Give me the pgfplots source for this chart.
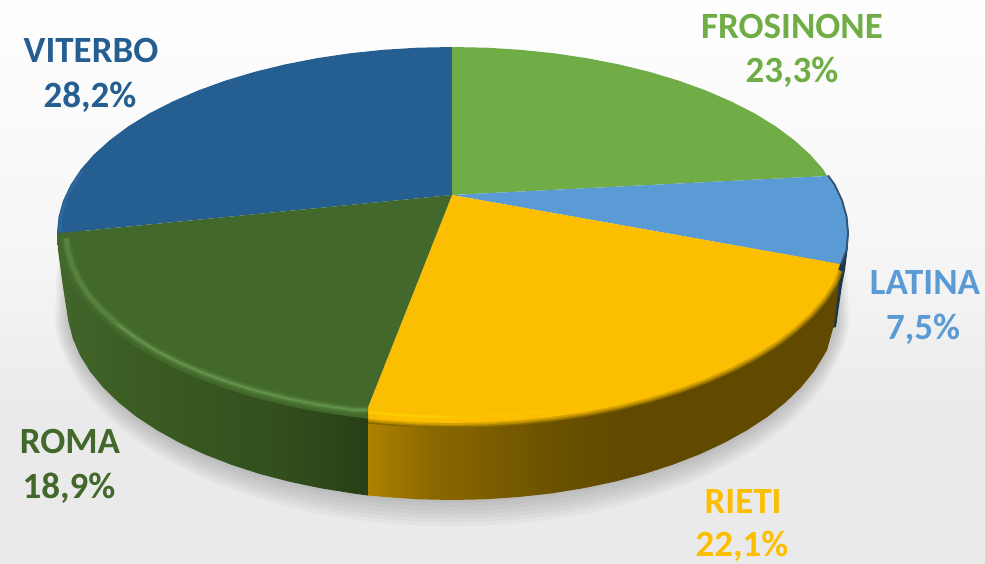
\documentclass[border=0pt]{standalone}
\usepackage{pgfplots}
\usepackage{pgfplotstable}
\pgfplotsset{compat=1.18}
\usepackage{fontspec}
\setmainfont{Carlito}
\definecolor{vit}{HTML}{255E91}
\definecolor{fro}{HTML}{70AD47}
\definecolor{lat}{HTML}{5B9BD5}
\definecolor{rie}{HTML}{FBBE00}
\definecolor{rom}{HTML}{43682B}
\definecolor{bgA}{HTML}{FEFEFE}
\definecolor{bgB}{HTML}{FBFBFB}
\definecolor{bgC}{HTML}{F5F5F5}
\definecolor{bgD}{HTML}{EAEAEA}
\definecolor{rsA}{HTML}{AD8200}
\definecolor{rsB}{HTML}{8A6700}
\definecolor{rsC}{HTML}{6A5100}
\definecolor{rsD}{HTML}{614A00}
\definecolor{gsA}{HTML}{41652A}
\definecolor{gsB}{HTML}{395B22}
\definecolor{gsC}{HTML}{324E1C}
\definecolor{gsD}{HTML}{283E17}
\definecolor{hlA}{HTML}{476E2E}
\definecolor{hlB}{HTML}{4D7634}
\definecolor{hlC}{HTML}{56823D}
\definecolor{hlD}{HTML}{63924C}
\pgfdeclareverticalshading{bgshade}{100bp}{color(0bp)=(bgD);color(25bp)=(bgD);color(38bp)=(bgD);color(52bp)=(bgC);color(65bp)=(bgB);color(75bp)=(bgA);color(100bp)=(bgA)}
\pgfdeclarehorizontalshading{rieside}{100bp}{color(0bp)=(rsA);color(25bp)=(rsA);color(32bp)=(rsB);color(45bp)=(rsC);color(52bp)=(rsD);color(75bp)=(rsD);color(100bp)=(rsD)}
\pgfdeclarehorizontalshading{romside}{100bp}{color(0bp)=(gsA);color(25bp)=(gsA);color(40bp)=(gsB);color(62bp)=(gsC);color(75bp)=(gsD);color(100bp)=(gsD)}
\pgfplotstableread{
x y
829 250
834 280
835.5 322
831.1 338.9
823.9 355.5
813.8 371.7
800.9 387.4
785.4 402.5
767.4 416.9
746.9 430.3
724.2 442.9
699.5 454.4
672.8 464.7
644.5 473.9
614.7 481.7
583.7 488.2
551.6 493.4
518.8 497
485.6 499.3
452 500
418.4 499.3
385.2 497
352.4 493.4
320.3 488.2
289.3 481.7
259.5 473.9
231.2 464.7
204.5 454.4
179.8 442.9
157.1 430.3
136.6 416.9
118.6 402.5
103.1 387.4
90.2 371.7
80.1 355.5
72.9 338.9
68.5 322
70 280
75 250
}\shadowrim
\begin{document}
\begin{tikzpicture}
\begin{axis}[scale only axis,width=985pt,height=564pt,hide axis,
  xmin=0,xmax=985,ymin=0,ymax=564,y dir=reverse,clip=true]
% background
\addplot[draw=none,shading=bgshade] coordinates {(0,0)(985,0)(985,564)(0,564)};
% soft shadow: nested outlines, thickest below the pie
\foreach \s/\t in {1.036/1.135,1.031/1.115,1.026/1.095,1.021/1.075,1.016/1.055,1.011/1.035,1.006/1.015}{
\edef\tmp{\noexpand\addplot[draw=none,fill=black,fill opacity=0.026] table[x expr=452+(\noexpand\thisrow{x}-452)*\s,y expr=305+(\noexpand\thisrow{y}-305)*\t] {\noexpand\shadowrim};}
\tmp
}
% Latina side sliver
\addplot[draw=none,fill=lat!35!black] coordinates {(829,176)(835,184.5)(842.5,200.5)(847,216.5)(848.5,233)(847.5,250)(845,270)(842,285)(836,327)(825,330)(825,180)};
% Roma side
\addplot[draw=none,shading=romside] coordinates {(57,233)(58,250)(60,265)(62,280)(65,300)(68.5,322)(72.9,338.9)(80.1,355.5)(90.2,371.7)(103.1,387.4)(118.6,402.5)(136.6,416.9)(157.1,430.3)(179.8,442.9)(204.5,454.4)(231.2,464.7)(259.5,473.9)(289.3,481.7)(320.3,488.2)(352.4,493.4)(368,495.5)(368,410)(80,230)};
% Rieti side
\addplot[draw=none,shading=rieside] coordinates {(368,410)(368,495.5)(385.2,497)(418.4,499.3)(452,500)(485.6,499.3)(518.8,497)(551.6,493.4)(583.7,488.2)(614.7,481.7)(644.5,473.9)(672.8,464.7)(699.5,454.4)(724.2,442.9)(746.9,430.3)(767.4,416.9)(785.4,402.5)(800.9,387.4)(813.8,371.7)(823.9,355.5)(827,350)(834,325)(838,290)(840,264)(800,260)};
% Rieti edge blur
\foreach \w/\m in {10/25,7/50,4/75}{
\edef\tmp{\noexpand\addplot[draw=rie!\m!rsD,line width=\w pt,line cap=butt,line join=round] coordinates {(838,270)(833.5,282.2)(823.2,298)(810,313.3)(794,328)(775.6,342)(754.6,355.1)(731.3,367.3)(705.9,378.5)(678.6,388.6)(649.5,397.5)(618.9,405.2)(587.1,411.5)(554.2,416.5)(520.6,420.1)(486.4,422.3)(452,423)(417.6,422.3)(383.4,420.1)(368.5,418.6)};}
\tmp
}
% Latina edge blur
\addplot[draw=lat!55!black,line width=4pt,line cap=butt] coordinates {(827,176)(833.5,184.9)(841,200.7)(845.5,216.8)(847,233)(845.5,249.6)(840,264)};
% top wedges
\addplot[draw=none,fill=vit] coordinates {(452,195)(452,47)(417.6,47.7)(383.4,49.8)(349.8,53.3)(316.9,58.2)(285.1,64.4)(254.5,71.9)(225.4,80.6)(198.1,90.5)(172.7,101.5)(149.4,113.4)(128.4,126.3)(110,140)(94,154.4)(80.8,169.4)(70.5,184.9)(63,200.7)(58.5,216.8)(57,233)(62,233)};
\addplot[draw=none,fill=fro] coordinates {(452,195)(452,47)(486.4,47.7)(520.6,49.8)(554.2,53.3)(587.1,58.2)(618.9,64.4)(649.5,71.9)(678.6,80.6)(705.9,90.5)(731.3,101.5)(754.6,113.4)(775.6,126.3)(794,140)(810,154.4)(823.2,169.4)(827,176)};
\addplot[draw=none,fill=lat] coordinates {(452,195)(827,176)(833.5,184.9)(841,200.7)(845.5,216.8)(847,233)(845.5,249.6)(840,264)};
\addplot[draw=none,fill=rie] coordinates {(452,195)(840,264)(833.5,282.2)(823.2,298)(810,313.3)(794,328)(775.6,342)(754.6,355.1)(731.3,367.3)(705.9,378.5)(678.6,388.6)(649.5,397.5)(618.9,405.2)(587.1,411.5)(554.2,416.5)(520.6,420.1)(486.4,422.3)(452,423)(417.6,422.3)(383.4,420.1)(368,418.6)(368,407)};
\addplot[draw=none,fill=rom] coordinates {(452,195)(368,407)(368,418.6)(349.8,416.5)(316.9,411.5)(285.1,405.2)(254.5,397.5)(225.4,388.6)(198.1,378.5)(172.7,367.3)(149.4,355.1)(128.4,342)(110,328)(94,313.3)(80.8,298)(70.5,282.2)(63,266)(58.5,249.6)(57,238)(62,233)};
% Viterbo rim
\addplot[draw=vit!85!lat,line width=3pt,line cap=butt] coordinates {(60,232)(61,217)(65,201)(72.5,186)(82.5,171)};
% Roma highlight, softened
\foreach \w/\c in {9/hlA,6.5/hlB,4/hlC}{
\edef\tmp{\noexpand\addplot[draw=\c,line width=\w pt,line cap=butt,line join=round] coordinates {(367.5,410)(352,409.8)(320,405)(289,398.9)(259,391.5)(231,382.9)(204,373.2)(179,362.4)(156,350.6)(136,338)(118,324.5)(102,310.3)(89,295.6)(79,280.4)(72,264.8)(67.5,249)(66,238)};}
\tmp
}
\addplot[draw=hlD,line width=1.8pt,line cap=butt,line join=round] coordinates {(367.5,410)(352,409.8)(320,405)(289,398.9)(259,391.5)(231,382.9)(204,373.2)(179,362.4)(156,350.6)(136,338)(118,324.5)};
% Rieti bright rim
\addplot[draw=rie!92!yellow,line width=3pt,line cap=butt] coordinates {(368.5,412)(383.4,414)(417.6,416)(452,417)(486.4,416)(520.6,414)(554.2,410)};
\addplot[draw=rie!80!yellow,line width=2.5pt,line cap=butt] coordinates {(368.5,412)(383.4,414)(417.6,416)(452,417)};
% labels
\begin{scope}[every node/.style={anchor=base,inner sep=0pt,font=\fontsize{37}{37}\selectfont\bfseries}]
\node[text=vit] at (axis cs:91,63) {\smash{VITERBO}};
\node[text=vit] at (axis cs:90,108) {\smash{28,2\%}};
\node[text=fro] at (axis cs:792,39) {\smash{FROSINONE}};
\node[text=fro] at (axis cs:792,83) {\smash{23,3\%}};
\node[text=lat] at (axis cs:925,294) {\smash{LATINA}};
\node[text=lat] at (axis cs:923,339) {\smash{7,5\%}};
\node[text=rom] at (axis cs:70,453) {\smash{ROMA}};
\node[text=rom] at (axis cs:69,498) {\smash{18,9\%}};
\node[text=rie] at (axis cs:743,513) {\smash{RIETI}};
\node[text=rie] at (axis cs:742,556) {\smash{22,1\%}};
\end{scope}
\end{axis}
\end{tikzpicture}
\end{document}
